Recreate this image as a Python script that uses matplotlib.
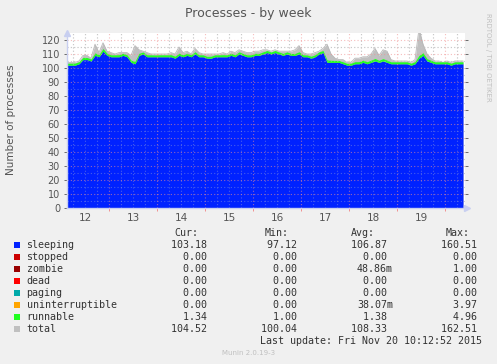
import matplotlib.pyplot as plt
import numpy as np
from matplotlib.patches import Rectangle

"""
Munin style weekly processes graph.
"""

OUT = "out.png"

# time in days (12.0 = Nov 12 00:00), one sample every 2 hours
t_start = 12.125
t_step = 1 / 12

sleeping = [
    102, 102, 102, 103, 106, 106, 105, 109, 108, 112,
    109, 108, 108, 108, 109, 108, 104, 103, 109, 110,
    108, 108, 108, 108, 108, 108, 108, 107, 109, 108,
    109, 108, 110, 108, 108, 107, 107, 108, 108, 108,
    108, 109, 108, 110, 109, 108, 108, 109, 109, 110,
    111, 110, 111, 110, 109, 110, 109, 109, 110, 108,
    108, 107, 108, 110, 111, 104, 104, 104, 104, 103,
    102, 102, 103, 103, 104, 103, 104, 105, 104, 105,
    104, 103, 103, 103, 103, 103, 102, 103, 107, 109,
    105, 104, 103, 103, 103, 103, 102, 103, 103, 103,
]
runnable = [
    1.4, 1.4, 1.5, 1.5, 1.6, 1.5, 1.4, 1.8, 1.5, 1.9,
    1.5, 1.4, 1.4, 1.5, 1.5, 1.4, 1.6, 1.8, 1.5, 1.4,
    1.4, 1.4, 1.3, 1.4, 1.4, 1.4, 1.5, 1.4, 1.6, 1.4,
    1.5, 1.4, 1.6, 1.4, 1.4, 1.3, 1.4, 1.4, 1.4, 1.5,
    1.4, 1.5, 1.4, 1.5, 1.4, 1.4, 1.4, 1.5, 1.4, 1.5,
    1.5, 1.4, 1.5, 1.4, 1.4, 1.5, 1.4, 1.4, 1.6, 1.4,
    1.3, 1.4, 1.4, 1.5, 1.5, 1.8, 1.5, 1.4, 1.4, 1.4,
    1.3, 1.4, 1.5, 1.5, 1.6, 1.5, 1.6, 1.8, 1.5, 1.7,
    1.6, 1.4, 1.4, 1.4, 1.4, 1.4, 1.4, 1.5, 2.0, 1.9,
    1.6, 1.5, 1.4, 1.4, 1.4, 1.4, 1.4, 1.4, 1.4, 1.4,
]
total = [
    104, 104, 104, 105, 109, 109, 107, 117, 111, 118,
    112, 111, 110, 111, 111, 111, 109, 116, 113, 112,
    111, 110, 110, 110, 110, 110, 111, 110, 115, 111,
    112, 110, 114, 111, 110, 110, 110, 110, 110, 111,
    110, 112, 111, 113, 112, 111, 111, 112, 112, 113,
    113, 112, 113, 112, 112, 112, 112, 113, 116, 111,
    110, 110, 111, 112, 114, 117, 110, 107, 106, 106,
    104, 104, 107, 107, 108, 108, 110, 114, 109, 113,
    112, 106, 105, 105, 105, 105, 104, 106, 128, 117,
    110, 107, 105, 105, 104, 105, 104, 105, 105, 105,
]

legend_names = ["sleeping", "stopped", "zombie", "dead", "paging",
                "uninterruptible", "runnable", "total"]
legend_colors = ["#0022ff", "#cc0000", "#990000", "#ff0000", "#00aaaa",
                 "#ffa500", "#22ff22", "#c0c0c0"]
cur = ["103.18", "0.00", "0.00", "0.00", "0.00", "0.00", "1.34", "104.52"]
mins = ["97.12", "0.00", "0.00", "0.00", "0.00", "0.00", "1.00", "100.04"]
avgs = ["106.87", "0.00", "48.86m", "0.00", "0.00", "38.07m", "1.38", "108.33"]
maxs = ["160.51", "0.00", "1.00", "0.00", "0.00", "3.97", "4.96", "162.51"]
day_labels = ["12", "13", "14", "15", "16", "17", "18", "19"]

t = t_start + t_step * np.arange(len(sleeping))
sleeping = np.array(sleeping, dtype=float)
runnable = np.array(runnable, dtype=float)
total = np.array(total, dtype=float)

W, H = 497, 364
fig = plt.figure(figsize=(W / 100, H / 100), dpi=100, facecolor="#f0f0f0")

# plot area in pixel coordinates
px_l, px_r, px_t, px_b = 67, 465, 33, 208
ax = fig.add_axes([px_l / W, 1 - px_b / H, (px_r - px_l) / W, (px_b - px_t) / H])
ax.set_facecolor("white")
t_end = t_start + (px_r - px_l) / 48
ax.set_xlim(t_start, t_end)
ax.set_ylim(0, 125)

grey_grid = dict(color="#c8c8c8", linestyle=(0, (1, 2)), linewidth=0.8)
red_grid = dict(color="#f09090", linestyle=(0, (1, 2)), linewidth=0.8)
for x in np.arange(12.25, t_end, 0.25):
    if abs(x - round(x)) > 1e-6:
        ax.axvline(x, zorder=0.5, **grey_grid)
for y in np.arange(5, 125, 10):
    ax.axhline(y, zorder=0.5, **grey_grid)

ax.fill_between(t, 0, total, color="#c0c0c0", linewidth=0, zorder=1)
ax.fill_between(t, 0, sleeping, color="#0022ff", linewidth=0, zorder=2)
ax.fill_between(t, sleeping, sleeping + runnable, color="#22ff22",
                linewidth=0, zorder=2)
ax.plot(t, total, color="#b8b8b8", linewidth=0.6, zorder=1.5)

# grid drawn over the areas, like rrdtool
for x in np.arange(12.25, t_end, 0.25):
    if abs(x - round(x)) > 1e-6:
        ax.axvline(x, zorder=3, alpha=0.35, **grey_grid)
    else:
        ax.axvline(x, zorder=3, alpha=0.6, **red_grid)
for y in np.arange(5, 125, 10):
    ax.axhline(y, zorder=3, alpha=0.35, **grey_grid)
for y in np.arange(10, 125, 10):
    ax.axhline(y, zorder=3, alpha=0.6, **red_grid)

ax.set_xticks(np.arange(13, 20.5, 1))
ax.set_xticklabels([])
ax.set_yticks(np.arange(0, 121, 10))
ax.tick_params(axis="y", colors="#555555", labelcolor="#555555", labelsize=7,
               length=2, pad=3, width=0.6, right=True)
ax.tick_params(axis="x", colors="#f08080", length=2, width=0.6, pad=2)
for s in ["top", "right"]:
    ax.spines[s].set_visible(False)
for s in ["left", "bottom"]:
    ax.spines[s].set_color("#c8cff0")
    ax.spines[s].set_linewidth(1)
    ax.spines[s].set_zorder(4)
ax.plot([t_start], [125], marker="^", color="#c8cff0", markersize=4,
        clip_on=False, zorder=5)
ax.plot([t_end + 0.05], [0], marker=">", color="#c8cff0", markersize=4,
        clip_on=False, zorder=5)
for i, lab in enumerate(day_labels):
    ax.text(12.5 + i, -3.5, lab, ha="center", va="top", fontsize=7.5,
            color="#555555")

# overlay in pixel coordinates for text and legend
ov = fig.add_axes([0, 0, 1, 1], facecolor="none")
ov.set_xlim(0, W)
ov.set_ylim(H, 0)
ov.axis("off")

ov.text(248.5, 13, "Processes - by week", ha="center", va="center",
        fontsize=9, color="#555555")
ov.text(11, 120, "Number of processes", ha="center", va="center",
        rotation=90, fontsize=7.5, color="#555555")
ov.text(488, 57, "RRDTOOL / TOBI OETIKER", ha="center", va="center",
        rotation=270, fontsize=5, color="#c0c0c0")
ov.text(249, 353, "Munin 2.0.19-3", ha="center", va="center",
        fontsize=5, color="#c0c0c0")

mono = dict(family="DejaVu Sans Mono", fontsize=7.2, color="#333333", va="center")
ov.text(198.7, 232.7, "Cur:", ha="right", **mono)
ov.text(289, 232.7, "Min:", ha="right", **mono)
ov.text(375, 232.7, "Avg:", ha="right", **mono)
ov.text(470, 232.7, "Max:", ha="right", **mono)


def fmt(v):
    return v if v.endswith("m") else v + " "


for i, name in enumerate(legend_names):
    yc = 244.7 + 12 * i
    ov.add_patch(Rectangle((14, yc - 3), 6, 6, facecolor=legend_colors[i],
                           edgecolor="none"))
    ov.text(26.5, yc, name, ha="left", **mono)
    ov.text(212.7, yc, fmt(cur[i]), ha="right", **mono)
    ov.text(303.3, yc, fmt(mins[i]), ha="right", **mono)
    ov.text(393, yc, fmt(avgs[i]), ha="right", **mono)
    ov.text(483, yc, fmt(maxs[i]), ha="right", **mono)

ov.text(482, 340.7, "Last update: Fri Nov 20 10:12:52 2015", ha="right", **mono)

fig.savefig(OUT, dpi=100, facecolor=fig.get_facecolor())
